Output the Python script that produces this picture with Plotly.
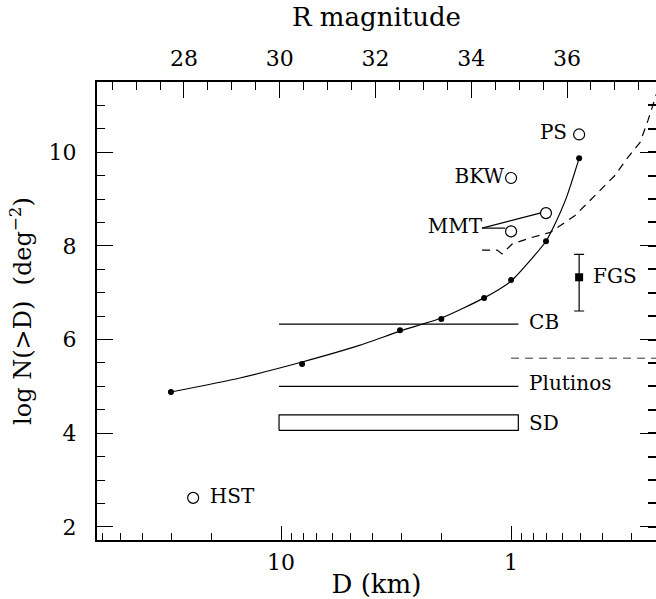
import plotly.graph_objects as go

# ---------------- data ----------------
# smooth model curve
curve_D = [30.1, 15.1, 8.1, 4.53, 3.04, 2.01, 1.31, 1.0, 0.705, 0.657, 0.576, 0.506]
curve_logN = [4.88, 5.18, 5.52, 5.88, 6.18, 6.46, 6.89, 7.25, 8.10, 8.38, 9.02, 9.87]

# model points (filled dots)
dot_D = [30.1, 8.1, 3.04, 2.01, 1.31, 1.0, 0.705, 0.506]
dot_logN = [4.88, 5.48, 6.20, 6.44, 6.89, 7.27, 8.10, 9.87]

# survey detections (open circles)
survey_names = ["PS", "BKW", "MMT", "MMT", "HST"]
survey_D = [0.506, 1.0, 0.705, 1.0, 24.1]
survey_logN = [10.38, 9.45, 8.70, 8.31, 2.62]

# FGS point with asymmetric error bar
fgs_D = [0.506]
fgs_logN = [7.33]
fgs_err_plus = [0.49]
fgs_err_minus = [0.72]

# upper dashed limit curve
limit_D = [1.337, 1.15, 1.094, 0.99, 0.826, 0.676, 0.527, 0.41, 0.353, 0.313, 0.275, 0.254, 0.232]
limit_logN = [7.91, 7.91, 7.83, 8.04, 8.17, 8.29, 8.65, 9.19, 9.51, 9.87, 10.21, 10.68, 11.28]

# lower dashed line
lower_D = [1.0, 0.232]
lower_logN = [5.60, 5.60]

# population levels
pop_D_range = [10.2, 0.93]
cb_logN = 6.33
plutino_logN = 5.0
sd_logN_range = [4.06, 4.39]

# MMT connector lines
mmt_label_D = 1.337
mmt_label_logN = 8.38
mmt_ends_D = [0.748, 1.06]
mmt_ends_logN = [8.70, 8.38]

# labels
label_text = ["PS", "BKW", "MMT", "HST", "FGS", "CB", "Plutinos", "SD"]
label_D = [0.571, 1.073, 1.337, 20.4, 0.44, 0.835, 0.835, 0.835]
label_logN = [10.38, 9.45, 8.38, 2.62, 7.31, 6.33, 5.03, 4.18]
label_pos = ["middle left", "middle left", "middle left", "middle right",
             "middle right", "middle right", "middle right", "middle right"]

# axes
D_ticks = [10, 1]
D_minor = [60, 50, 40, 30, 20, 9, 8, 7, 6, 5, 4, 3, 2, 0.9, 0.8, 0.7, 0.6, 0.5, 0.4, 0.3]
mag_ticks = [28, 30, 32, 34, 36]
logN_ticks = [2, 4, 6, 8, 10]

FONT = "DejaVu Serif"

fig = go.Figure()

# population lines / box
fig.add_trace(go.Scatter(x=pop_D_range, y=[cb_logN, cb_logN], mode="lines",
                         line=dict(color="black", width=1.2), showlegend=False))
fig.add_trace(go.Scatter(x=pop_D_range, y=[plutino_logN, plutino_logN], mode="lines",
                         line=dict(color="black", width=1.2), showlegend=False))
fig.add_trace(go.Scatter(
    x=[pop_D_range[0], pop_D_range[1], pop_D_range[1], pop_D_range[0], pop_D_range[0]],
    y=[sd_logN_range[0], sd_logN_range[0], sd_logN_range[1], sd_logN_range[1], sd_logN_range[0]],
    mode="lines", line=dict(color="black", width=1.2), showlegend=False))

# dashed lines
fig.add_trace(go.Scatter(x=limit_D, y=limit_logN, mode="lines",
                         line=dict(color="black", width=1.2, dash="8px,6px"), showlegend=False))
fig.add_trace(go.Scatter(x=lower_D, y=lower_logN, mode="lines",
                         line=dict(color="#777777", width=1.5, dash="8px,6px"), showlegend=False))

# model curve and dots
fig.add_trace(go.Scatter(x=curve_D, y=curve_logN, mode="lines",
                         line=dict(color="black", width=1.2, shape="spline", smoothing=0.6),
                         showlegend=False))
fig.add_trace(go.Scatter(x=dot_D, y=dot_logN, mode="markers",
                         marker=dict(color="black", size=6), showlegend=False))

# MMT connectors
for d, n in zip(mmt_ends_D, mmt_ends_logN):
    fig.add_trace(go.Scatter(x=[mmt_label_D, d], y=[mmt_label_logN, n], mode="lines",
                             line=dict(color="black", width=1.2), showlegend=False))

# survey circles
fig.add_trace(go.Scatter(x=survey_D, y=survey_logN, mode="markers",
                         marker=dict(symbol="circle-open", color="black", size=11,
                                     line=dict(width=1.2)),
                         showlegend=False))

# FGS
fig.add_trace(go.Scatter(x=fgs_D, y=fgs_logN, mode="markers",
                         marker=dict(symbol="square", color="black", size=8),
                         error_y=dict(type="data", symmetric=False, array=fgs_err_plus,
                                      arrayminus=fgs_err_minus, color="black",
                                      thickness=1.2, width=5),
                         showlegend=False))

# labels
fig.add_trace(go.Scatter(x=label_D, y=label_logN, mode="text", text=label_text,
                         textposition=label_pos,
                         textfont=dict(family=FONT, size=20, color="black"),
                         showlegend=False))

# invisible traces to activate the top and right axes
fig.add_trace(go.Scatter(x=[30], y=[6], xaxis="x2", yaxis="y", mode="markers",
                         marker=dict(opacity=0), showlegend=False, hoverinfo="skip"))
fig.add_trace(go.Scatter(x=[3], y=[6], xaxis="x", yaxis="y2", mode="markers",
                         marker=dict(opacity=0), showlegend=False, hoverinfo="skip"))

tick_common = dict(showgrid=False, zeroline=False, showline=True, linecolor="black",
                   linewidth=2, ticks="inside", tickwidth=1.2, tickcolor="black")

fig.update_layout(
    width=656, height=599,
    margin=dict(l=97, r=0, t=82, b=59),
    paper_bgcolor="white", plot_bgcolor="white",
    font=dict(family=FONT, color="black"),
    xaxis=dict(
        type="log", range=[1.8, -0.63], mirror=False, ticklen=14,
        tickvals=D_ticks, ticktext=[str(v) for v in D_ticks],
        minor=dict(tickvals=D_minor, ticks="inside", ticklen=7, tickwidth=1.2,
                   tickcolor="black", showgrid=False),
        tickfont=dict(size=22, family=FONT),
        ticklabelstandoff=2,
        title=dict(text="D (km)", font=dict(size=26, family=FONT), standoff=5),
        **tick_common,
    ),
    xaxis2=dict(
        overlaying="x", side="top", anchor="y",
        range=[26.183, 37.859], ticklen=16,
        tickvals=mag_ticks,
        minor=dict(dtick=0.5, tick0=0, ticks="inside", ticklen=8, tickwidth=1.2,
                   tickcolor="black", showgrid=False),
        tickfont=dict(size=22, family=FONT),
        ticklabelstandoff=5,
        title=dict(text="R magnitude", font=dict(size=26, family=FONT), standoff=12),
        **tick_common,
    ),
    yaxis=dict(
        range=[1.72, 11.5], mirror=False, ticklen=16,
        tickvals=logN_ticks,
        minor=dict(dtick=0.5, tick0=0, ticks="inside", ticklen=8, tickwidth=1.2,
                   tickcolor="black", showgrid=False),
        tickfont=dict(size=22, family=FONT),
        ticklabelstandoff=14,
        title=dict(text="log N(>D)  (deg<sup>−2</sup>)", font=dict(size=24, family=FONT),
                   standoff=10),
        **tick_common,
    ),
    yaxis2=dict(
        overlaying="y", side="right", anchor="x", matches="y",
        range=[1.72, 11.5], ticklen=16,
        tickvals=logN_ticks, showticklabels=False,
        minor=dict(dtick=0.5, tick0=0, ticks="inside", ticklen=8, tickwidth=1.5,
                   tickcolor="black", showgrid=False),
        **tick_common,
    ),
)

fig.write_html("out.html")
